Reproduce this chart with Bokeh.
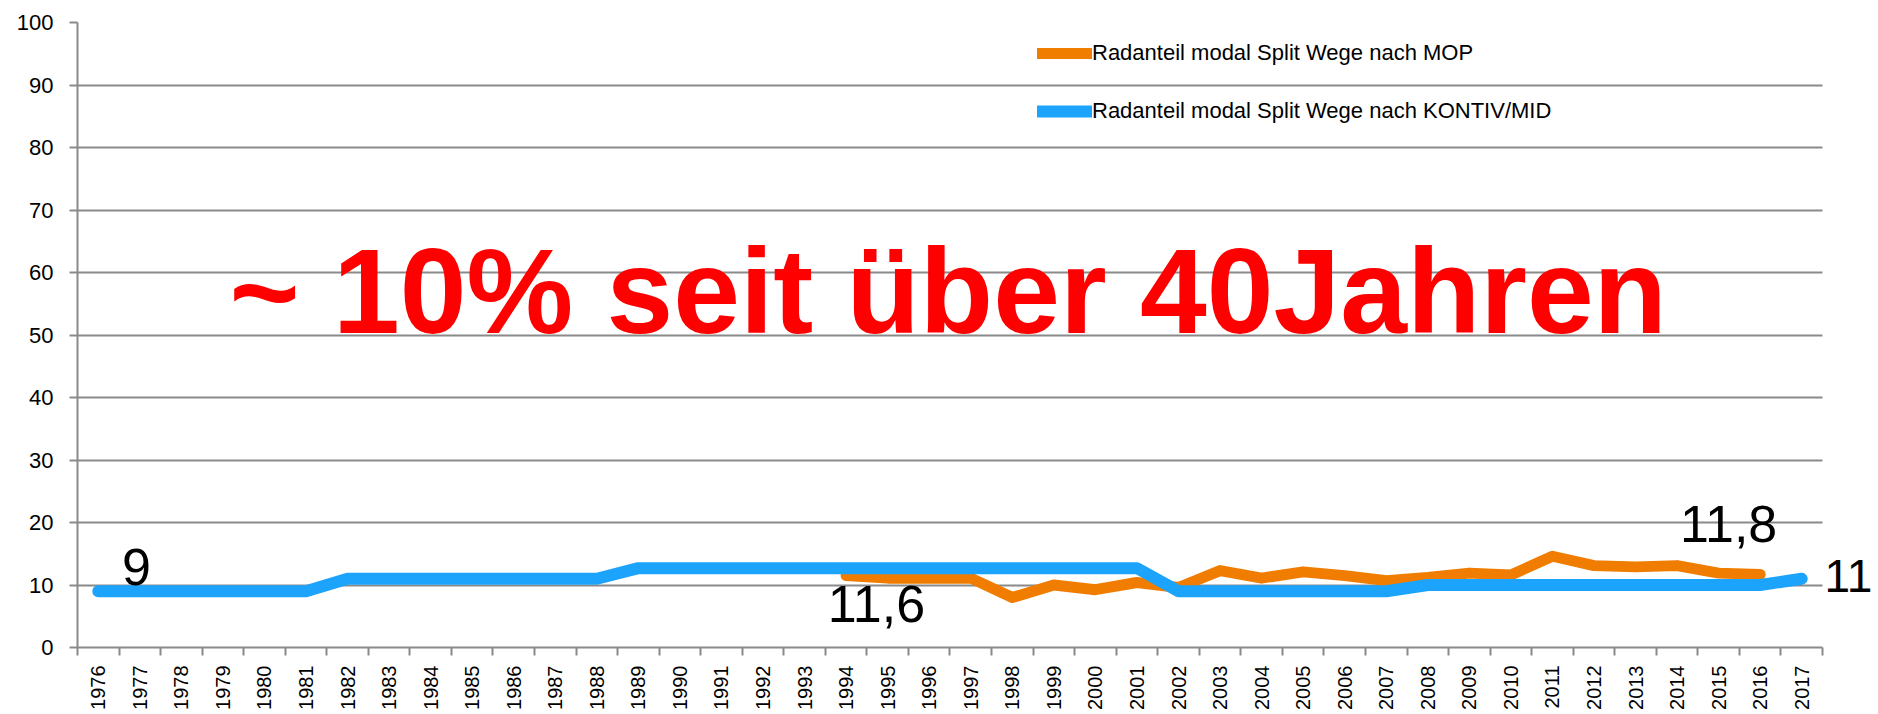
from bokeh.plotting import figure
from bokeh.models import Range1d, FixedTicker, Legend, LegendItem, Label
from bokeh.embed import file_html
from bokeh.resources import INLINE
import math

FONT = "Liberation Sans"

years = list(range(1976, 2018))
mid_values = [9, 9, 9, 9, 9, 9,
              11, 11, 11, 11, 11, 11, 11,
              12.7, 12.7, 12.7, 12.7, 12.7, 12.7, 12.7, 12.7, 12.7, 12.7, 12.7, 12.7, 12.7,
              9, 9, 9, 9, 9, 9,
              10, 10, 10, 10, 10, 10, 10, 10, 10,
              11]
mop_years = list(range(1994, 2017))
mop_values = [11.5, 11.1, 11.1, 11.1, 8.0, 10.0, 9.25, 10.4, 9.6, 12.3, 11.1, 12.1,
              11.5, 10.7, 11.2, 11.9, 11.6, 14.6, 13.1, 12.9, 13.1, 11.9, 11.7]
y_ticks = list(range(0, 101, 10))

mop_name = "Radanteil modal Split Wege nach MOP"
mid_name = "Radanteil modal Split Wege nach KONTIV/MID"

# data labels placed near the points they annotate (year, value)
lab_texts = ["9", "11,6", "11,8", "11"]
lab_years = [1976.92, 1994.73, 2015.24, 2017.55]
lab_vals = [12.85, 6.93, 19.8, 11.4]
lab_align = ["center", "center", "center", "left"]
lab_sizes = ["52px", "52px", "52px", "46px"]

headline = "~ 10% seit  über 40Jahren"

x_lo = years[0] - 0.5
x_hi = years[-1] + 0.5

p = figure(output_backend="svg", toolbar_location=None,
           frame_width=1799, frame_height=625,
           min_border_left=77, min_border_top=22, min_border_right=0, min_border_bottom=10,
           x_range=Range1d(x_lo, 2018.8),
           y_range=Range1d(0, 100))
p.outline_line_color = None
p.background_fill_color = "white"

GRAY = "#8a8a8a"

p.xgrid.visible = False
p.ygrid.ticker = FixedTicker(ticks=y_ticks)
p.ygrid.grid_line_color = GRAY
p.ygrid.grid_line_width = 2
p.ygrid.cross_bounds = (x_lo, x_hi)

p.yaxis.ticker = FixedTicker(ticks=y_ticks)
p.yaxis.axis_line_color = GRAY
p.yaxis.axis_line_width = 2
p.yaxis.major_tick_line_color = GRAY
p.yaxis.major_tick_line_width = 2
p.yaxis.major_tick_out = 8
p.yaxis.major_tick_in = 0
p.yaxis.minor_tick_line_color = None
p.yaxis.major_label_standoff = 16
p.yaxis.major_label_text_font = FONT
p.yaxis.major_label_text_font_size = "22px"
p.yaxis.major_label_text_color = "black"

p.xaxis.bounds = (x_lo, x_hi)
p.xaxis.ticker = FixedTicker(ticks=years, minor_ticks=[y - 0.5 for y in years] + [x_hi])
p.xaxis.axis_line_color = GRAY
p.xaxis.axis_line_width = 2
p.xaxis.major_tick_line_color = None
p.xaxis.minor_tick_line_color = GRAY
p.xaxis.minor_tick_line_width = 2
p.xaxis.minor_tick_out = 8
p.xaxis.minor_tick_in = 0
p.xaxis.major_tick_out = 8
p.xaxis.major_label_orientation = math.pi / 2
p.xaxis.major_label_standoff = 10
p.xaxis.major_label_text_font = FONT
p.xaxis.major_label_text_font_size = "20px"
p.xaxis.major_label_text_color = "black"

r_mop = p.line(mop_years, mop_values, line_color="#F07D00", line_width=11,
               line_cap="round", line_join="round")
r_mid = p.line(years, mid_values, line_color="#1CA4FC", line_width=12,
               line_cap="round", line_join="round")

legend = Legend(items=[LegendItem(label=mop_name, renderers=[r_mop]),
                       LegendItem(label=mid_name, renderers=[r_mid])],
                location=(960, 521), orientation="vertical",
                glyph_width=55, glyph_height=30, label_height=30, spacing=28,
                label_standoff=0, padding=0, margin=0,
                background_fill_alpha=0, border_line_alpha=0,
                label_text_font=FONT, label_text_font_size="22px",
                label_text_color="black", label_text_baseline="middle")
p.add_layout(legend)

for t, yx, v, al, fs in zip(lab_texts, lab_years, lab_vals, lab_align, lab_sizes):
    p.add_layout(Label(x=yx, y=v, text=t, text_align=al, text_baseline="alphabetic",
                       text_font=FONT, text_font_size=fs, text_color="black"))

p.add_layout(Label(x=152, y=357, x_units="screen", y_units="screen", text=headline,
                   text_align="left", text_baseline="alphabetic",
                   text_font=FONT, text_font_style="bold", text_font_size="120px",
                   text_color="#FF0000"))

open("out.html", "w").write(file_html(p, INLINE))
